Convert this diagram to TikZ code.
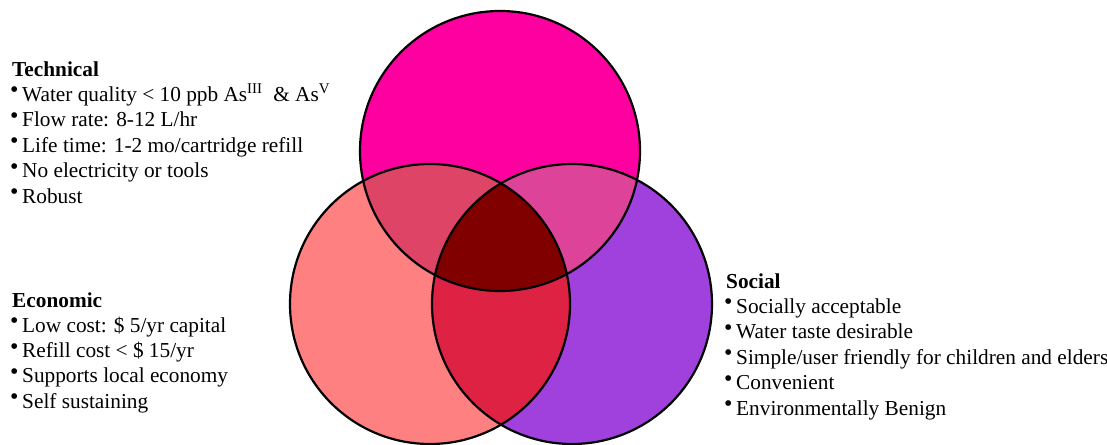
\documentclass[tikz,border=0pt]{standalone}
\usepackage{fontspec}
\setmainfont{Liberation Serif}
\usepackage{tikz}
\definecolor{techpink}{HTML}{FF00A0}
\definecolor{econsalmon}{HTML}{FF8080}
\definecolor{socpurple}{HTML}{A040DD}
\definecolor{techecon}{HTML}{DD4466}
\definecolor{techsoc}{HTML}{DD4499}
\definecolor{econsoc}{HTML}{DD2244}
\definecolor{allthree}{HTML}{800000}
% small raised bullet in front of each item
\newcommand{\bul}{\makebox[12pt][l]{\raisebox{3.5pt}{\fontsize{24}{24}\selectfont\textbullet}}}
\tikzset{
  ring/.style={draw=black, line width=2.2pt},
  head/.style={anchor=base west, inner sep=0pt, font=\fontsize{21.3}{25}\selectfont\bfseries},
  item/.style={anchor=base west, inner sep=0pt, font=\fontsize{21.3}{25}\selectfont}
}

\begin{document}
\begin{tikzpicture}[x=1pt, y=-1pt]
  \useasboundingbox (0,0) rectangle (1107,444);
  \coordinate (T) at (500,151);
  \coordinate (E) at (430,304);
  \coordinate (S) at (572,304);

  % circles
  \fill[techpink] (T) circle (140);
  \fill[econsalmon] (E) circle (140);
  \fill[socpurple] (S) circle (140);
  % overlaps
  \begin{scope}
    \clip (T) circle (140);
    \fill[techecon] (E) circle (140);
    \fill[techsoc] (S) circle (140);
  \end{scope}
  \begin{scope}
    \clip (E) circle (140);
    \fill[econsoc] (S) circle (140);
    \clip (S) circle (140);
    \fill[allthree] (T) circle (140);
  \end{scope}
  \draw[ring] (T) circle (140);
  \draw[ring] (E) circle (140);
  \draw[ring] (S) circle (140);

  % technical
  \node[head] (tech) at (12,76) {Technical};
  \foreach \txt [count=\i] in {{Water quality < 10 ppb As\textsuperscript{III}\ \ \& As\textsuperscript{V}},
      Flow rate: 8-12 L/hr, Life time: 1-2 mo/cartridge refill,
      No electricity or tools, Robust}
    \node[item] (tech\i) at (10,76+25.4*\i) {\bul\txt};

  % economic
  \node[head] (econ) at (12,307) {Economic};
  \foreach \txt [count=\i] in {Low cost: \$ 5/yr capital, Refill cost < \$ 15/yr,
      Supports local economy, Self sustaining}
    \node[item] (econ\i) at (10,307+25.3*\i) {\bul\txt};

  % social
  \node[head] (soc) at (726,288) {Social};
  \foreach \txt [count=\i] in {Socially acceptable, Water taste desirable,
      Simple/user friendly for children and elders, Convenient,
      Environmentally Benign}
    \node[item] (soc\i) at (724,288+25.4*\i) {\bul\txt};
\end{tikzpicture}
\end{document}
